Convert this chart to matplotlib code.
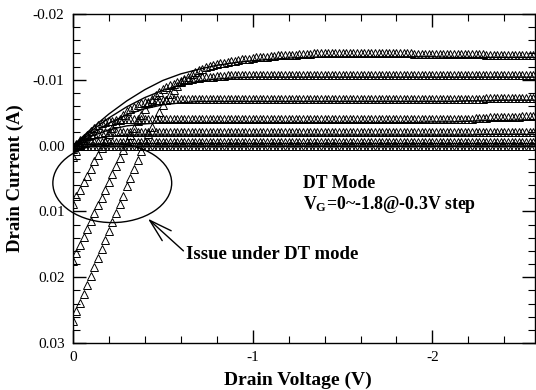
import numpy as np
import matplotlib
matplotlib.use('Agg')
import matplotlib.pyplot as plt
from matplotlib.patches import Ellipse
from matplotlib.ticker import MultipleLocator, FormatStrFormatter

# drain sweep of the measured (triangle) data, 0 to -2.56 V in 0.02 V steps
vd = np.round(np.arange(129) * -0.02, 2)
# drain sweep of the solid reference curves, 0 to -2.6 V in 0.1 V steps
vd_line = np.round(np.arange(27) * -0.1, 1)

id_vg0_0 = [
    0.0, 0.0, 0.0, 0.0, 0.0, 0.0, 0.0, 0.0, 0.0, 0.0,
    0.0, 0.0, 0.0, 0.0, 0.0, 0.0, 0.0, 0.0, 0.0, 0.0,
    0.0, 0.0, 0.0, 0.0, 0.0, 0.0, 0.0, 0.0, 0.0, 0.0,
    0.0, 0.0, 0.0, 0.0, 0.0, 0.0, 0.0, 0.0, 0.0, 0.0,
    0.0, 0.0, 0.0, 0.0, 0.0, 0.0, 0.0, 0.0, 0.0, 0.0,
    0.0, 0.0, 0.0, 0.0, 0.0, 0.0, 0.0, 0.0, 0.0, 0.0,
    0.0, 0.0, 0.0, 0.0, 0.0, 0.0, 0.0, 0.0, 0.0, 0.0,
    0.0, 0.0, 0.0, 0.0, 0.0, 0.0, 0.0, 0.0, 0.0, 0.0,
    0.0, 0.0, 0.0, 0.0, 0.0, 0.0, 0.0, 0.0, 0.0, 0.0,
    0.0, 0.0, 0.0, 0.0, 0.0, 0.0, 0.0, 0.0, 0.0, 0.0,
    0.0, 0.0, 0.0, 0.0, 0.0, 0.0, 0.0, 0.0, 0.0, 0.0,
    0.0, 0.0, 0.0, 0.0, 0.0, 0.0, 0.0, 0.0, 0.0, 0.0,
    0.0, 0.0, 0.0, 0.0, 0.0, 0.0, 0.0, 0.0, 0.0]

id_vg0_3 = [
    0.2, -0.1, -0.3, -0.4, -0.5, -0.5, -0.6, -0.6, -0.6, -0.6,
    -0.6, -0.6, -0.6, -0.6, -0.6, -0.6, -0.6, -0.6, -0.6, -0.6,
    -0.6, -0.6, -0.6, -0.6, -0.6, -0.6, -0.6, -0.6, -0.6, -0.6,
    -0.6, -0.6, -0.6, -0.6, -0.6, -0.6, -0.6, -0.6, -0.6, -0.6,
    -0.6, -0.6, -0.6, -0.6, -0.6, -0.6, -0.6, -0.6, -0.6, -0.6,
    -0.6, -0.6, -0.6, -0.6, -0.6, -0.6, -0.6, -0.6, -0.6, -0.6,
    -0.6, -0.6, -0.6, -0.6, -0.6, -0.6, -0.6, -0.6, -0.6, -0.6,
    -0.6, -0.6, -0.6, -0.6, -0.6, -0.6, -0.6, -0.6, -0.6, -0.6,
    -0.6, -0.6, -0.6, -0.6, -0.6, -0.6, -0.6, -0.6, -0.6, -0.6,
    -0.6, -0.6, -0.6, -0.6, -0.6, -0.6, -0.6, -0.6, -0.6, -0.6,
    -0.6, -0.6, -0.6, -0.6, -0.6, -0.6, -0.6, -0.6, -0.6, -0.6,
    -0.6, -0.6, -0.6, -0.6, -0.6, -0.6, -0.6, -0.6, -0.6, -0.6,
    -0.6, -0.6, -0.6, -0.6, -0.6, -0.6, -0.6, -0.6, -0.6]

id_vg0_6 = [
    0.5, -0.2, -0.8, -1.2, -1.5, -1.7, -1.8, -1.9, -1.9, -2.0,
    -2.0, -2.0, -2.0, -2.0, -2.0, -2.0, -2.0, -2.0, -2.0, -2.0,
    -2.0, -2.0, -2.0, -2.0, -2.0, -2.0, -2.0, -2.0, -2.0, -2.0,
    -2.0, -2.0, -2.0, -2.0, -2.0, -2.0, -2.0, -2.0, -2.0, -2.0,
    -2.0, -2.0, -2.0, -2.0, -2.0, -2.0, -2.0, -2.0, -2.0, -2.0,
    -2.0, -2.0, -2.0, -2.0, -2.0, -2.0, -2.0, -2.0, -2.0, -2.0,
    -2.0, -2.0, -2.0, -2.0, -2.0, -2.0, -2.0, -2.0, -2.0, -2.0,
    -2.0, -2.0, -2.0, -2.0, -2.0, -2.0, -2.0, -2.0, -2.0, -2.0,
    -2.0, -2.0, -2.0, -2.0, -2.0, -2.0, -2.0, -2.0, -2.0, -2.0,
    -2.0, -2.0, -2.0, -2.0, -2.0, -2.0, -2.0, -2.0, -2.0, -2.0,
    -2.0, -2.0, -2.0, -2.0, -2.0, -2.0, -2.0, -2.0, -2.0, -2.0,
    -2.0, -2.0, -2.0, -2.0, -2.0, -2.1, -2.1, -2.1, -2.1, -2.1,
    -2.1, -2.1, -2.1, -2.1, -2.1, -2.1, -2.1, -2.1, -2.1]

id_vg0_9 = [
    1.7, 0.8, -0.1, -0.9, -1.6, -2.2, -2.7, -3.1, -3.4, -3.6,
    -3.7, -3.8, -3.9, -3.9, -4.0, -4.0, -4.0, -4.0, -4.0, -4.0,
    -4.0, -4.0, -4.0, -4.0, -4.0, -4.0, -4.0, -4.0, -4.0, -4.0,
    -4.0, -4.0, -4.0, -4.0, -4.0, -4.0, -4.0, -4.0, -4.0, -4.0,
    -4.0, -4.0, -4.0, -4.0, -4.0, -4.0, -4.0, -4.0, -4.0, -4.0,
    -4.0, -4.0, -4.0, -4.0, -4.0, -4.0, -4.0, -4.0, -4.0, -4.0,
    -4.0, -4.0, -4.0, -4.0, -4.0, -4.0, -4.0, -4.0, -4.0, -4.0,
    -4.0, -4.0, -4.0, -4.0, -4.0, -4.0, -4.0, -4.0, -4.0, -4.0,
    -4.0, -4.0, -4.0, -4.0, -4.0, -4.0, -4.0, -4.0, -4.0, -4.0,
    -4.0, -4.0, -4.0, -4.0, -4.0, -4.0, -4.0, -4.0, -4.0, -4.0,
    -4.0, -4.0, -4.0, -4.0, -4.0, -4.1, -4.1, -4.1, -4.1, -4.1,
    -4.1, -4.1, -4.2, -4.2, -4.2, -4.2, -4.3, -4.3, -4.3, -4.3,
    -4.3, -4.4, -4.4, -4.4, -4.4, -4.5, -4.5, -4.5, -4.5]

id_vg1_2 = [
    8.8, 7.7, 6.7, 5.6, 4.6, 3.5, 2.4, 1.4, 0.3, -0.7,
    -1.7, -2.6, -3.4, -4.1, -4.7, -5.2, -5.6, -5.9, -6.2, -6.4,
    -6.6, -6.7, -6.8, -6.9, -7.0, -7.0, -7.0, -7.1, -7.1, -7.1,
    -7.1, -7.1, -7.1, -7.1, -7.1, -7.1, -7.1, -7.1, -7.1, -7.1,
    -7.1, -7.1, -7.1, -7.1, -7.1, -7.1, -7.1, -7.1, -7.1, -7.1,
    -7.1, -7.1, -7.1, -7.1, -7.1, -7.1, -7.1, -7.1, -7.1, -7.1,
    -7.1, -7.1, -7.1, -7.1, -7.1, -7.1, -7.1, -7.1, -7.1, -7.1,
    -7.1, -7.1, -7.1, -7.1, -7.1, -7.1, -7.1, -7.1, -7.1, -7.1,
    -7.1, -7.1, -7.1, -7.1, -7.1, -7.1, -7.1, -7.1, -7.1, -7.1,
    -7.1, -7.1, -7.1, -7.1, -7.1, -7.1, -7.1, -7.1, -7.1, -7.1,
    -7.1, -7.1, -7.1, -7.1, -7.1, -7.1, -7.1, -7.1, -7.1, -7.1,
    -7.1, -7.1, -7.1, -7.1, -7.1, -7.2, -7.2, -7.2, -7.2, -7.2,
    -7.2, -7.2, -7.2, -7.3, -7.3, -7.3, -7.3, -7.3, -7.3]

id_vg1_5 = [
    17.5, 16.3, 15.1, 13.9, 12.7, 11.5, 10.3, 9.1, 7.9, 6.7,
    5.5, 4.3, 3.1, 1.9, 0.7, -0.5, -1.6, -2.7, -3.7, -4.7,
    -5.6, -6.4, -7.1, -7.7, -8.2, -8.6, -8.9, -9.2, -9.4, -9.6,
    -9.8, -9.9, -10.0, -10.1, -10.2, -10.3, -10.4, -10.4, -10.5, -10.5,
    -10.6, -10.6, -10.6, -10.7, -10.7, -10.7, -10.7, -10.8, -10.8, -10.8,
    -10.8, -10.8, -10.8, -10.8, -10.8, -10.8, -10.8, -10.8, -10.8, -10.8,
    -10.8, -10.8, -10.8, -10.8, -10.8, -10.8, -10.8, -10.8, -10.8, -10.8,
    -10.8, -10.8, -10.8, -10.8, -10.8, -10.8, -10.8, -10.8, -10.8, -10.8,
    -10.8, -10.8, -10.8, -10.8, -10.8, -10.8, -10.8, -10.8, -10.8, -10.8,
    -10.8, -10.8, -10.8, -10.8, -10.8, -10.8, -10.8, -10.8, -10.8, -10.8,
    -10.8, -10.8, -10.8, -10.8, -10.8, -10.8, -10.8, -10.8, -10.8, -10.8,
    -10.8, -10.8, -10.8, -10.8, -10.8, -10.8, -10.8, -10.8, -10.8, -10.8,
    -10.8, -10.8, -10.8, -10.8, -10.8, -10.8, -10.8, -10.8, -10.8]

id_vg1_8 = [
    26.6, 25.2, 23.9, 22.5, 21.2, 19.8, 18.4, 17.1, 15.7, 14.4,
    13.0, 11.6, 10.3, 8.9, 7.6, 6.2, 4.9, 3.5, 2.2, 0.8,
    -0.5, -1.7, -2.9, -4.0, -5.1, -6.1, -7.0, -7.8, -8.5, -9.1,
    -9.6, -10.1, -10.5, -10.9, -11.2, -11.5, -11.7, -11.9, -12.1, -12.3,
    -12.4, -12.5, -12.6, -12.7, -12.8, -12.9, -13.0, -13.1, -13.2, -13.2,
    -13.3, -13.4, -13.4, -13.5, -13.5, -13.6, -13.6, -13.7, -13.7, -13.7,
    -13.8, -13.8, -13.8, -13.9, -13.9, -13.9, -13.9, -14.0, -14.0, -14.0,
    -14.0, -14.0, -14.0, -14.0, -14.0, -14.0, -14.0, -14.0, -14.0, -14.0,
    -14.0, -14.0, -14.0, -14.0, -14.0, -14.0, -14.0, -14.0, -14.0, -14.0,
    -14.0, -14.0, -14.0, -14.0, -14.0, -13.9, -13.9, -13.9, -13.9, -13.9,
    -13.9, -13.9, -13.9, -13.9, -13.9, -13.9, -13.9, -13.9, -13.9, -13.9,
    -13.9, -13.9, -13.9, -13.9, -13.9, -13.8, -13.8, -13.8, -13.8, -13.8,
    -13.8, -13.8, -13.8, -13.8, -13.8, -13.8, -13.8, -13.8, -13.8]

# solid curves, in mA, at vd_line
line_vg0_0 = [0.0, 0.0, 0.0, 0.0, 0.0, 0.0, 0.0, 0.0, 0.0, 0.0, 0.0, 0.0, 0.0, 0.0,
              0.0, 0.0, 0.0, 0.0, 0.0, 0.0, 0.0, 0.0, 0.0, 0.0, 0.0, 0.0, 0.0]
line_vg0_3 = [0.0, -0.2, -0.3, -0.3, -0.3, -0.3, -0.3, -0.3, -0.3, -0.3, -0.3, -0.3, -0.3, -0.3,
              -0.3, -0.3, -0.3, -0.3, -0.3, -0.3, -0.3, -0.3, -0.3, -0.3, -0.3, -0.3, -0.3]
line_vg0_6 = [0.0, -0.9, -1.4, -1.6, -1.6, -1.6, -1.6, -1.6, -1.6, -1.6, -1.6, -1.6, -1.6, -1.6,
              -1.6, -1.6, -1.6, -1.6, -1.6, -1.6, -1.6, -1.6, -1.6, -1.7, -1.7, -1.7, -1.7]
line_vg0_9 = [0.0, -1.4, -2.4, -3.0, -3.3, -3.5, -3.5, -3.5, -3.5, -3.5, -3.5, -3.5, -3.5, -3.5,
              -3.5, -3.5, -3.5, -3.5, -3.5, -3.5, -3.6, -3.6, -3.7, -3.8, -3.8, -3.9, -3.9]
line_vg1_2 = [0.0, -1.8, -3.4, -4.7, -5.6, -6.2, -6.5, -6.7, -6.7, -6.7, -6.7, -6.7, -6.7, -6.7,
              -6.7, -6.7, -6.7, -6.7, -6.7, -6.7, -6.7, -6.7, -6.8, -6.8, -6.9, -6.9, -6.9]
line_vg1_5 = [0.0, -2.2, -4.2, -5.9, -7.3, -8.4, -9.2, -9.8, -10.1, -10.3, -10.4, -10.4, -10.4, -10.4,
              -10.4, -10.4, -10.4, -10.4, -10.4, -10.4, -10.4, -10.4, -10.4, -10.4, -10.4, -10.4, -10.4]
line_vg1_8 = [0.0, -2.5, -4.8, -6.8, -8.5, -9.9, -10.9, -11.6, -12.2, -12.6, -12.9, -13.1, -13.3, -13.4,
              -13.5, -13.5, -13.5, -13.5, -13.5, -13.5, -13.5, -13.4, -13.4, -13.4, -13.4, -13.4, -13.4]

curves = [id_vg0_0, id_vg0_3, id_vg0_6, id_vg0_9, id_vg1_2, id_vg1_5, id_vg1_8]
lines = [line_vg0_0, line_vg0_3, line_vg0_6, line_vg0_9, line_vg1_2, line_vg1_5, line_vg1_8]

plt.rcParams['font.family'] = 'Liberation Serif'
plt.rcParams['mathtext.fontset'] = 'custom'
plt.rcParams['mathtext.rm'] = 'Liberation Serif'
plt.rcParams['mathtext.bf'] = 'Liberation Serif:bold'
plt.rcParams['axes.unicode_minus'] = False

fig = plt.figure(figsize=(5.36, 3.9), dpi=100)
ax = fig.add_axes([0.136, 0.1205, 0.862, 0.8436])

for ids, il in zip(curves, lines):
    ax.plot(vd_line, np.array(il) / 1000.0, color='black', lw=1.0)
    ax.plot(vd, np.array(ids) / 1000.0, ls='none', marker='^', ms=5.5,
            mfc='none', mec='black', mew=0.7)

ax.set_xlim(0, -2.57)
ax.set_ylim(0.03, -0.02)
ax.xaxis.set_major_locator(MultipleLocator(1))
ax.xaxis.set_minor_locator(MultipleLocator(0.2))
ax.yaxis.set_major_locator(MultipleLocator(0.01))
ax.yaxis.set_minor_locator(MultipleLocator(0.002))
ax.xaxis.set_major_formatter(FormatStrFormatter('%g'))
ax.yaxis.set_major_formatter(FormatStrFormatter('%.2f'))
ax.tick_params(which='both', direction='in', top=True, right=True,
               labelsize=11, color='black')
ax.tick_params(which='major', length=9.5, width=1.0, pad=6)
ax.tick_params(which='minor', length=5, width=0.8)
for s in ax.spines.values():
    s.set_linewidth(1.0)

ax.set_xlabel('Drain Voltage (V)', fontsize=14, fontweight='bold')
ax.set_ylabel('Drain Current (A)', fontsize=13.5, fontweight='bold')
ax.xaxis.set_label_coords(0.487, -0.088)
ax.yaxis.set_label_coords(-0.105, 0.5)

ax.text(-1.278, 0.0065, 'DT Mode', fontsize=12.8, fontweight='bold')
ax.text(-1.278, 0.0096, r'$\mathbf{V_G}$=0~-1.8@-0.3V step',
        fontsize=12.8, fontweight='bold')
ax.text(-0.63, 0.0172, 'Issue under DT mode', fontsize=13.5, fontweight='bold')

# circle round the problem region
ax.add_patch(Ellipse((-0.219, 0.0057), 0.661, 0.012, fill=False,
                     edgecolor='black', lw=1.0, clip_on=False))
ax.annotate('', xy=(-0.417, 0.0111), xytext=(-0.615, 0.0160),
            arrowprops=dict(arrowstyle='->,head_length=1.1,head_width=0.32',
                            lw=1.0, color='black', mutation_scale=15,
                            shrinkA=0, shrinkB=0))

fig.savefig('out.png', dpi=100)
